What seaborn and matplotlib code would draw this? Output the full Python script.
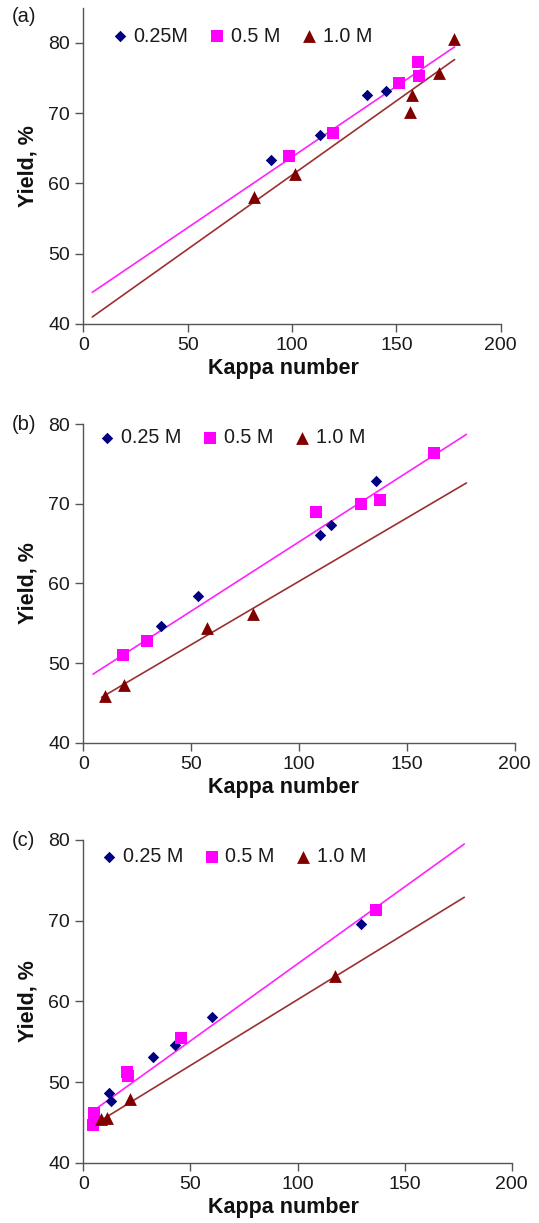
import matplotlib
matplotlib.use("Agg")
import matplotlib.pyplot as plt
import seaborn as sns
import numpy as np
import pandas as pd

sns.set_style("white")
plt.rcParams['font.family'] = ['Liberation Sans', 'DejaVu Sans']

# ---------------- data ----------------
# Panel (a)
a_025_x = [89.7, 113.5, 136.0, 144.9]
a_025_y = [63.3, 66.9, 72.6, 73.1]
a_05_x = [98.8, 119.8, 151.2, 160.3, 160.8]
a_05_y = [63.9, 67.2, 74.3, 77.2, 75.2]
a_10_x = [82.0, 101.2, 157.3, 156.5, 170.2, 177.7]
a_10_y = [58.0, 61.3, 72.6, 70.1, 75.7, 80.5]
# trend lines: x range and y at the ends
a_pink_x = [4.3, 177.9]
a_pink_y = [44.5, 79.4]
a_brown_x = [4.3, 177.9]
a_brown_y = [41.0, 77.6]

# Panel (b)
b_025_x = [36.0, 53.3, 109.6, 115.1, 135.7]
b_025_y = [54.6, 58.4, 66.1, 67.3, 72.8]
b_05_x = [18.2, 29.7, 108.0, 128.7, 137.5, 162.7]
b_05_y = [51.0, 52.8, 69.0, 69.9, 70.4, 76.3]
b_10_x = [10.0, 18.7, 57.6, 78.5]
b_10_y = [45.8, 47.2, 54.4, 56.2]
b_pink_x = [4.5, 177.7]
b_pink_y = [48.6, 78.7]
b_brown_x = [8.5, 177.7]
b_brown_y = [45.7, 72.6]

# Panel (c)
c_025_x = [11.9, 12.7, 32.3, 42.8, 60.2, 129.7]
c_025_y = [48.7, 47.7, 53.1, 54.6, 58.1, 69.6]
c_05_x = [4.8, 4.4, 20.2, 21.0, 45.6, 136.6]
c_05_y = [46.1, 44.7, 51.3, 50.7, 55.5, 71.3]
c_10_x = [8.2, 11.2, 22.0, 117.5]
c_10_y = [45.4, 45.5, 47.9, 63.1]
c_pink_x = [5.5, 177.8]
c_pink_y = [46.6, 79.5]
c_brown_x = [4.3, 177.8]
c_brown_y = [44.6, 72.9]

panel_letters = ["(a)", "(b)", "(c)"]
legend_labels = [["0.25M", "0.5 M", "1.0 M"],
                 ["0.25 M", "0.5 M", "1.0 M"],
                 ["0.25 M", "0.5 M", "1.0 M"]]
y_tops = [85, 80, 80]
x_ticks = [0, 50, 100, 150, 200]
y_ticks = [40, 50, 60, 70, 80]
x_label = "Kappa number"
y_label = "Yield, %"

# ---------------- styling ----------------
C_DIA = "#000080"
C_SQ = "#FF00FF"
C_TRI = "#800000"
C_PINK_LINE = "#FF22FF"
C_BROWN_LINE = "#9B3030"
AX_COL = "#555555"

W, H = 539, 1223
fig = plt.figure(figsize=(W / 100, H / 100), dpi=100)

# axes boxes in pixels: left, right, top, bottom
boxes = [(83.3, 500.7, 7.5, 324.0),
         (83.3, 514.5, 424.0, 742.7),
         (83.3, 511.8, 840.0, 1162.7)]
legend_anchor = [(0.0685, 0.9094), (0.037, 0.958), (0.041, 0.948)]
letter_pos = [(12, 16), (12, 425), (12, 841)]
xlabel_center_px = 283.0

panels = [
    (a_025_x, a_025_y, a_05_x, a_05_y, a_10_x, a_10_y, a_pink_x, a_pink_y, a_brown_x, a_brown_y),
    (b_025_x, b_025_y, b_05_x, b_05_y, b_10_x, b_10_y, b_pink_x, b_pink_y, b_brown_x, b_brown_y),
    (c_025_x, c_025_y, c_05_x, c_05_y, c_10_x, c_10_y, c_pink_x, c_pink_y, c_brown_x, c_brown_y),
]

for i, (p, box) in enumerate(zip(panels, boxes)):
    l, r, t, b = box
    ax = fig.add_axes([l / W, 1 - b / H, (r - l) / W, (b - t) / H])
    x1, y1, x2, y2, x3, y3, px, py, bx, by = p
    labs = legend_labels[i]

    ax.plot(px, py, color=C_PINK_LINE, lw=1.2, zorder=1)
    ax.plot(bx, by, color=C_BROWN_LINE, lw=1.2, zorder=1)

    sns.scatterplot(x=x1, y=y1, ax=ax, marker="D", s=34, color=C_DIA,
                    edgecolor=C_DIA, linewidth=0, label=labs[0], zorder=3)
    sns.scatterplot(x=x2, y=y2, ax=ax, marker="s", s=64, color=C_SQ,
                    edgecolor=C_SQ, linewidth=0, label=labs[1], zorder=3)
    sns.scatterplot(x=x3, y=y3, ax=ax, marker="^", s=85, color=C_TRI,
                    edgecolor=C_TRI, linewidth=0, label=labs[2], zorder=3)

    ax.set_xlim(0, 200)
    ax.set_ylim(40, y_tops[i])
    ax.set_xticks(x_ticks)
    ax.set_yticks(y_ticks)
    for sp in ["top", "right"]:
        ax.spines[sp].set_visible(False)
    for sp in ["left", "bottom"]:
        ax.spines[sp].set_color(AX_COL)
        ax.spines[sp].set_linewidth(1.0)
    ax.tick_params(axis="both", direction="out", length=5.5, width=1.0,
                   color=AX_COL, labelsize=14, labelcolor="#1a1a1a", pad=4,
                   left=True, bottom=True)
    ax.set_xlabel(x_label, fontsize=15.5, fontweight="bold", labelpad=3,
                  color="#111111")
    ax.xaxis.label.set_x((xlabel_center_px - l) / (r - l))
    ax.set_ylabel(y_label, fontsize=15.5, fontweight="bold", labelpad=7,
                  color="#111111")

    leg = ax.legend(ncol=3, loc="center left", bbox_to_anchor=legend_anchor[i],
                    frameon=False, fontsize=14.2, handletextpad=0.3,
                    columnspacing=1.05, handlelength=0.8, borderaxespad=0,
                    borderpad=0)
    for txt in leg.get_texts():
        txt.set_color("#1a1a1a")

    lx, ly = letter_pos[i]
    fig.text(lx / W, 1 - ly / H, panel_letters[i], fontsize=14.5,
             ha="left", va="center", color="#1a1a1a")

fig.savefig("out.png", dpi=100)
